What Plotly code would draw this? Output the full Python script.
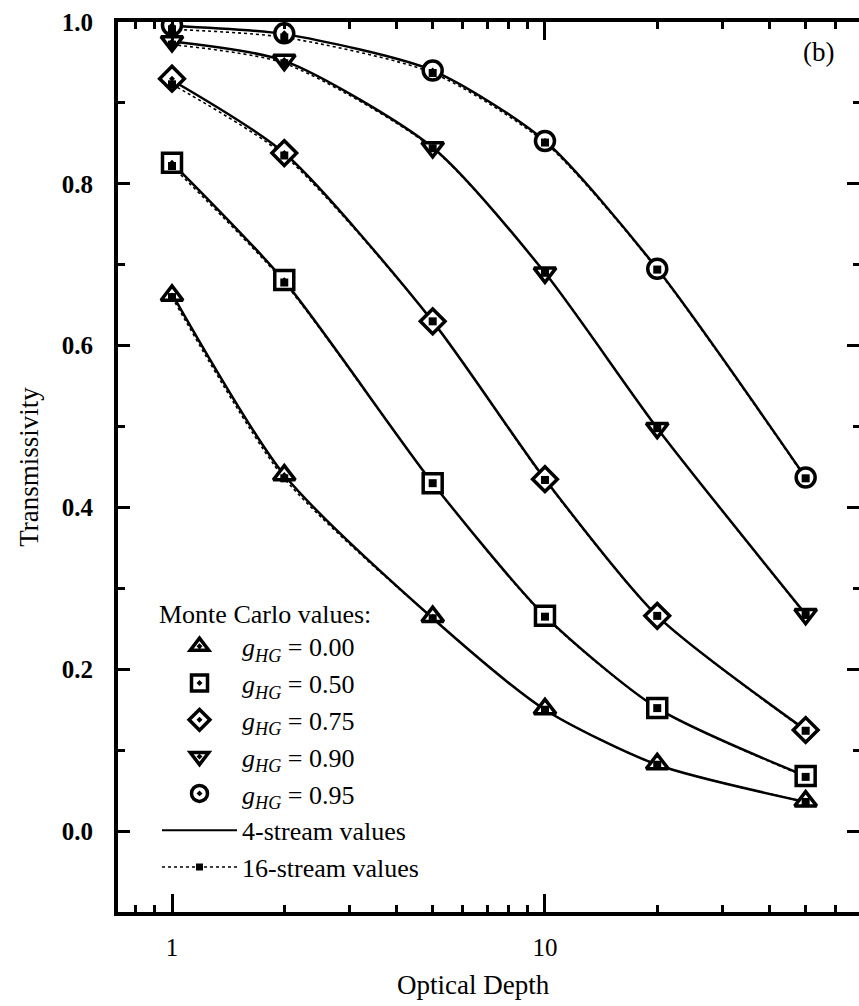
import plotly.graph_objects as go

# ---- data ----
tau = [1, 2, 5, 10, 20, 50]
g_labels = ["0.00", "0.50", "0.75", "0.90", "0.95"]

mc_g000 = [0.662, 0.440, 0.265, 0.151, 0.083, 0.037]
mc_g050 = [0.826, 0.681, 0.430, 0.266, 0.152, 0.068]
mc_g075 = [0.930, 0.838, 0.630, 0.435, 0.266, 0.125]
mc_g090 = [0.976, 0.953, 0.845, 0.690, 0.498, 0.268]
mc_g095 = [0.996, 0.986, 0.940, 0.853, 0.695, 0.437]

fs4_g000 = [0.664, 0.440, 0.263, 0.150, 0.082, 0.036]
fs4_g050 = [0.826, 0.680, 0.430, 0.266, 0.152, 0.068]
fs4_g075 = [0.928, 0.838, 0.630, 0.435, 0.266, 0.125]
fs4_g090 = [0.976, 0.952, 0.845, 0.690, 0.498, 0.268]
fs4_g095 = [0.995, 0.985, 0.940, 0.853, 0.695, 0.437]

fs16_g000 = [0.660, 0.436, 0.263, 0.150, 0.082, 0.036]
fs16_g050 = [0.822, 0.678, 0.430, 0.265, 0.152, 0.067]
fs16_g075 = [0.923, 0.835, 0.630, 0.434, 0.266, 0.124]
fs16_g090 = [0.972, 0.949, 0.844, 0.690, 0.498, 0.267]
fs16_g095 = [0.991, 0.981, 0.937, 0.851, 0.694, 0.436]

mc_series = [mc_g000, mc_g050, mc_g075, mc_g090, mc_g095]
fs4_series = [fs4_g000, fs4_g050, fs4_g075, fs4_g090, fs4_g095]
fs16_series = [fs16_g000, fs16_g050, fs16_g075, fs16_g090, fs16_g095]
symbols = ["triangle-up-dot", "square-dot", "diamond-dot", "triangle-down-dot", "circle-dot"]

FONT = "Liberation Serif"

fig = go.Figure()

# 16-stream dotted curves
for ys in fs16_series:
    fig.add_trace(go.Scatter(
        x=tau, y=ys, mode="lines",
        line=dict(color="black", width=1.6, dash="dot", shape="spline", smoothing=0.7),
        showlegend=False, hoverinfo="skip"))

# 4-stream solid curves
for ys in fs4_series:
    fig.add_trace(go.Scatter(
        x=tau, y=ys, mode="lines",
        line=dict(color="black", width=2.5, shape="spline", smoothing=0.7),
        showlegend=False))

# Monte Carlo open markers
for i, ys in enumerate(mc_series):
    fig.add_trace(go.Scatter(
        x=tau, y=ys, mode="markers",
        marker=dict(symbol=symbols[i], size=19, color="white",
                    line=dict(color="black", width=3.5)),
        name="<i>g</i><sub><i>HG</i></sub> = " + g_labels[i],
        legendgroup="mc%d" % i, legendrank=10 + i))

# 16-stream points (small filled squares)
for ys in fs16_series:
    fig.add_trace(go.Scatter(
        x=tau, y=ys, mode="markers",
        marker=dict(symbol="square", size=8, color="black"),
        showlegend=False, hoverinfo="skip"))

# legend-only entries for the line styles
fig.add_trace(go.Scatter(
    x=[None], y=[None], mode="lines", line=dict(color="black", width=2),
    name="4-stream values", legendgroup="l4", legendrank=60))
fig.add_trace(go.Scatter(
    x=[None], y=[None], mode="lines+markers", line=dict(color="black", width=1.6, dash="dot"),
    marker=dict(symbol="square", size=7, color="black"),
    name="16-stream values", legendgroup="l16", legendrank=70))

fig.add_trace(go.Scatter(x=[None], y=[None], yaxis="y2", showlegend=False, hoverinfo="skip"))

W, H = 859, 1006
L, R, T, B = 118, 0, 22, 94
pw, ph = W - L - R, H - T - B

def px_x(x):
    return (x - L) / pw

def px_y(y):
    return (H - B - y) / ph

fig.update_layout(
    width=W, height=H,
    margin=dict(l=L, r=R, t=T, b=B),
    paper_bgcolor="white", plot_bgcolor="white",
    font=dict(family=FONT, color="black", size=26),
    legend=dict(
        x=px_x(157), y=px_y(589), xanchor="left", yanchor="top",
        bgcolor="rgba(0,0,0,0)", itemwidth=75, tracegroupgap=0,
        font=dict(family=FONT, size=26, color="black"),
        title=dict(text="Monte Carlo values:", font=dict(family=FONT, size=26)),
        traceorder="grouped"),
    xaxis=dict(
        type="log", range=[-0.1448, 1.842],
        showline=True, linecolor="black", linewidth=4, mirror="ticks",
        ticks="inside", ticklen=18, tickwidth=3, tickcolor="black",
        dtick=1, showgrid=False, zeroline=False,
        tickfont=dict(family=FONT, size=25),
        ticklabelstandoff=10,
        minor=dict(ticks="inside", ticklen=7, tickwidth=3, tickcolor="black",
                   dtick="D1", showgrid=False),
    ),
    yaxis=dict(
        range=[-0.1, 1.0], showline=True, linecolor="black", linewidth=4, mirror=False,
        ticks="inside", ticklen=12, tickwidth=3, tickcolor="black",
        tick0=0, dtick=0.2, tickformat=".1f", showgrid=False, zeroline=False,
        tickfont=dict(family=FONT, size=25, weight="bold"),
        ticklabelstandoff=16,
        minor=dict(ticks="inside", ticklen=7, tickwidth=3, tickcolor="black",
                   dtick=0.1, showgrid=False),
        title=dict(text="Transmissivity", font=dict(family=FONT, size=27), standoff=16),
    ),
    yaxis2=dict(
        overlaying="y", side="right", range=[-0.1, 1.0], showline=False,
        ticks="inside", ticklen=12, tickwidth=3, tickcolor="black",
        tick0=0, dtick=0.2, showticklabels=False, showgrid=False, zeroline=False,
        minor=dict(ticks="inside", ticklen=6, tickwidth=3, tickcolor="black",
                   dtick=0.1, showgrid=False),
    ),
    annotations=[
        dict(text="(b)", x=px_x(818), y=px_y(52), xref="paper", yref="paper",
             xanchor="center", yanchor="middle", showarrow=False,
             font=dict(family=FONT, size=27)),
        dict(text="Optical Depth", x=px_x(473), y=px_y(985), xref="paper", yref="paper",
             xanchor="center", yanchor="middle", showarrow=False,
             font=dict(family=FONT, size=27)),
    ],
)

fig.write_html("out.html")
